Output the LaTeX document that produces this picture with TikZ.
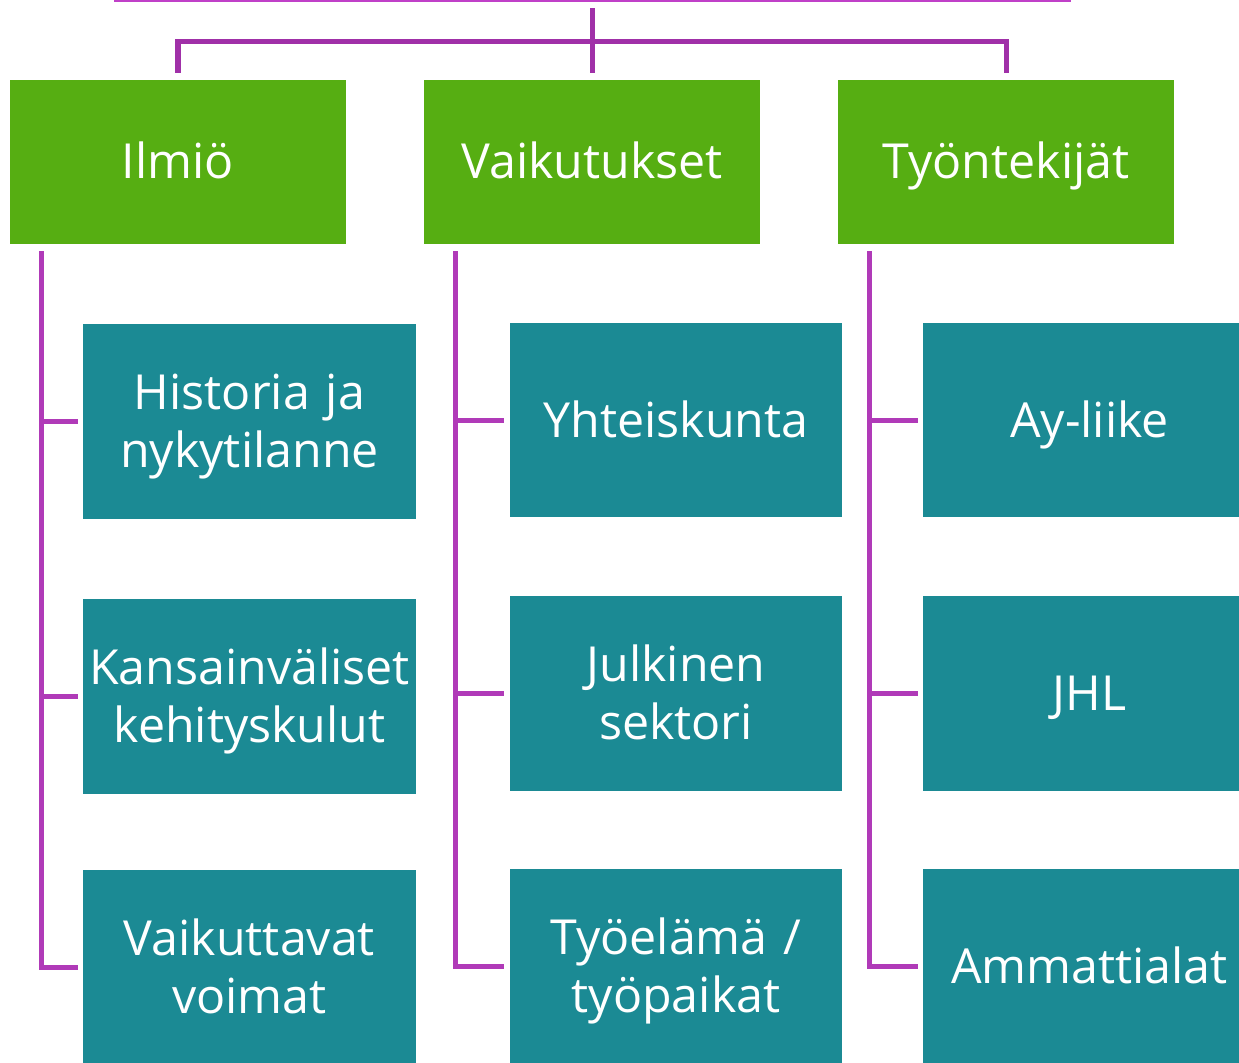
\documentclass[tikz,border=0pt]{standalone}
\usepackage{fontspec}
\setmainfont{Open Sans}
\usepackage{tikz}
\usetikzlibrary{positioning, calc}
\definecolor{headgreen}{RGB}{86,174,18}
\definecolor{subteal}{RGB}{27,138,148}
\definecolor{linkpurple}{RGB}{176,58,184}
\definecolor{barpurple}{RGB}{160,48,168}
\definecolor{toppurple}{RGB}{192,64,200}

\begin{document}
\begin{tikzpicture}[
			x=0.02cm, y=-0.02cm,
			head/.style={rectangle, fill=headgreen, text=white, minimum width=6.72cm, minimum height=3.28cm,
				inner sep=0pt, text height=0.76cm, text depth=0.12cm, font=\fontsize{27.5}{33}\selectfont},
			sub/.style={rectangle, fill=subteal, text=white, minimum width=6.66cm, minimum height=3.9cm,
				text width=6.6cm, align=center, inner sep=0pt, text height=0.76cm, text depth=0.08cm,
				font=\fontsize{27.5}{33}\selectfont},
			twolines/.style={text depth=1.24cm},
			line/.style={line width=2.85pt, color=linkpurple}
			]
			\useasboundingbox (0,0) rectangle (1239,1062);
			\clip (0,0) rectangle (1239,1062);

			\node[head] (ilmio) at (178,162) {Ilmiö};
			\node[head] (vaik)  at (592,162) {Vaikutukset};
			\node[head] (tyon)  at (1006,162) {Työntekijät};

			\node[sub, twolines] (hist) at (249.5,421.5) {Historia ja\\nykytilanne};
			\node[sub, twolines] (kans) at (249.5,696.5) {Kansainväliset\\kehityskulut};
			\node[sub, twolines] (voim) at (249.5,967.5) {Vaikuttavat\\voimat};

			\node[sub] (yht)  at (676,420) {Yhteiskunta};
			\node[sub, twolines] (julk) at (676,693.5) {Julkinen\\sektori};
			\node[sub, twolines] (tyoe) at (676,966.5) {Työelämä /\\työpaikat};

			\node[sub] (ay)   at (1089.5,420) {Ay-liike};
			\node[sub] (jhl)  at (1089.5,693.5) {JHL};
			\node[sub] (amm)  at (1089.5,966.5) {Ammattialat};

			\coordinate (topl) at (114,1);
			\coordinate (topr) at (1071,1);
			\coordinate (root) at (592,8);
			\coordinate (bar)  at (592,41);
			\draw[line, toppurple, line width=1.7pt] (topl) -- (topr);
			\draw[line, barpurple] ([yshift=0.14cm]ilmio.north) |- (bar) -| ([yshift=0.14cm]tyon.north);
			\draw[line, barpurple] (root) -- ([yshift=0.14cm]vaik.north);

			\coordinate (sp1) at ($(ilmio.south west)+(32,7)$);
			\coordinate (sp2) at ($(vaik.south west)+(32,7)$);
			\coordinate (sp3) at ($(tyon.south west)+(32,7)$);

			\draw[line] (sp1) |- ([xshift=-0.1cm]voim.west);
			\draw[line] (sp1 |- hist.west) -- ([xshift=-0.1cm]hist.west);
			\draw[line] (sp1 |- kans.west) -- ([xshift=-0.1cm]kans.west);

			\draw[line] (sp2) |- ([xshift=-0.1cm]tyoe.west);
			\draw[line] (sp2 |- yht.west) -- ([xshift=-0.1cm]yht.west);
			\draw[line] (sp2 |- julk.west) -- ([xshift=-0.1cm]julk.west);

			\draw[line] (sp3) |- ([xshift=-0.1cm]amm.west);
			\draw[line] (sp3 |- ay.west) -- ([xshift=-0.1cm]ay.west);
			\draw[line] (sp3 |- jhl.west) -- ([xshift=-0.1cm]jhl.west);
		\end{tikzpicture}
\end{document}
